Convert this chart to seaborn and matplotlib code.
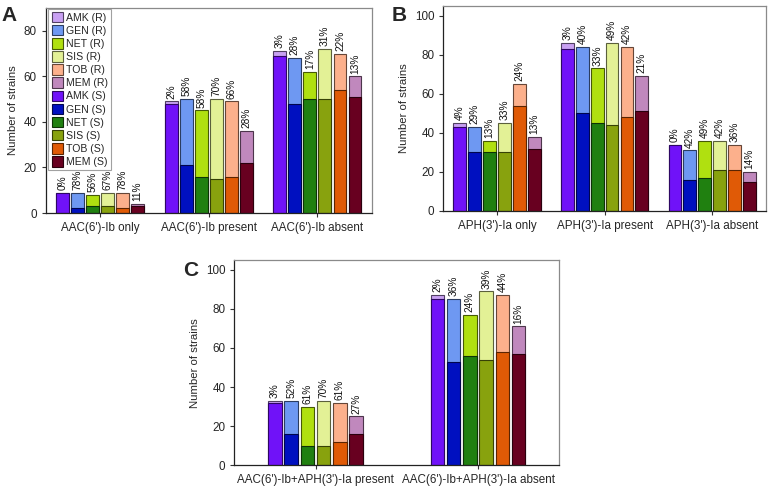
import matplotlib
matplotlib.use('Agg')
import matplotlib.pyplot as plt
import seaborn as sns
import pandas as pd
from matplotlib.patches import Patch

sns.set_style('ticks')
plt.rcParams['font.family'] = ['Liberation Sans', 'DejaVu Sans']

drugs = ['AMK', 'GEN', 'NET', 'SIS', 'TOB', 'MEM']
col_R = ['#c8a0f2', '#6e98f2', '#b0e010', '#e3f196', '#fcb08c', '#c088bd']
col_S = ['#7012f8', '#0010c0', '#208010', '#88a20e', '#e05a06', '#680020']

a_groups = ["AAC(6')-Ib only", "AAC(6')-Ib present", "AAC(6')-Ib absent"]
a_total = [[9, 9, 8, 9, 9, 4], [49, 50, 45, 50, 49, 36], [71, 68, 62, 72, 70, 60]]
a_S = [[9, 2, 3, 3, 2, 3], [48, 21, 16, 15, 16, 22], [69, 48, 50, 50, 54, 51]]
a_pct = [[0, 78, 56, 67, 78, 11], [2, 58, 58, 70, 66, 28], [3, 28, 17, 31, 22, 13]]

b_groups = ["APH(3')-Ia only", "APH(3')-Ia present", "APH(3')-Ia absent"]
b_total = [[45, 43, 36, 45, 65, 38], [86, 84, 73, 86, 84, 69], [34, 31, 36, 36, 34, 20]]
b_S = [[43, 30, 30, 30, 54, 32], [83, 50, 45, 44, 48, 51], [34, 16, 17, 21, 21, 15]]
b_pct = [[4, 29, 13, 33, 24, 13], [3, 40, 33, 49, 42, 21], [0, 42, 49, 42, 36, 14]]

c_groups = ["AAC(6')-Ib+APH(3')-Ia present", "AAC(6')-Ib+APH(3')-Ia absent"]
c_total = [[33, 33, 30, 33, 32, 25], [87, 85, 77, 89, 87, 71]]
c_S = [[32, 16, 10, 10, 12, 16], [85, 53, 56, 54, 58, 57]]
c_pct = [[3, 52, 61, 70, 61, 27], [2, 36, 24, 39, 44, 16]]


def darker(c, f=0.4):
    r, g, b = matplotlib.colors.to_rgb(c)
    return (r * f, g * f, b * f)


def draw(ax, groups, total, S, pct, width, gap, ymax, yticks):
    rows = []
    for gi, g in enumerate(groups):
        for di, d in enumerate(drugs):
            rows.append({'group': g, 'drug': d, 'total': total[gi][di], 'S': S[gi][di]})
    df = pd.DataFrame(rows)
    sns.barplot(data=df, x='group', y='total', hue='drug', order=groups, hue_order=drugs,
                palette=dict(zip(drugs, col_R)), width=width, gap=gap, saturation=1,
                linewidth=0.8, edgecolor='#333333', legend=False, ax=ax, errorbar=None)
    sns.barplot(data=df, x='group', y='S', hue='drug', order=groups, hue_order=drugs,
                palette=dict(zip(drugs, col_S)), width=width, gap=gap, saturation=1,
                linewidth=0.8, edgecolor='#333333', legend=False, ax=ax, errorbar=None)
    for p in ax.patches:
        p.set_edgecolor(darker(p.get_facecolor()))
    for di in range(len(drugs)):
        cont = ax.containers[di]
        ax.bar_label(cont, labels=[f'{pct[gi][di]}%' for gi in range(len(groups))],
                     rotation=90, padding=2, fontsize=7.3, color='#111111')
    ax.set_xlim(-0.5, len(groups) - 0.5)
    ax.set_ylim(0, ymax)
    ax.set_yticks(yticks)
    ax.set_xlabel('')
    ax.set_ylabel('Number of strains', fontsize=8.2)
    ax.tick_params(axis='both', labelsize=8.4, length=3, width=0.8, color='#333333')
    for s in ['left', 'bottom']:
        ax.spines[s].set_color('#222222')
        ax.spines[s].set_linewidth(0.9)
    for s in ['top', 'right']:
        ax.spines[s].set_visible(True)
        ax.spines[s].set_color('#8a8a8a')
        ax.spines[s].set_linewidth(0.9)


fig = plt.figure(figsize=(7.7, 4.9), dpi=100)
axA = fig.add_axes([0.0594, 0.5653, 0.4234, 0.4184])
axB = fig.add_axes([0.5757, 0.5694, 0.4191, 0.4184])
axC = fig.add_axes([0.3043, 0.0504, 0.4220, 0.4190])

draw(axA, a_groups, a_total, a_S, a_pct, 0.83, 0.14, 90, [0, 20, 40, 60, 80])
draw(axB, b_groups, b_total, b_S, b_pct, 0.83, 0.14, 105, [0, 20, 40, 60, 80, 100])
draw(axC, c_groups, c_total, c_S, c_pct, 0.60, 0.17, 105, [0, 20, 40, 60, 80, 100])

handles = [Patch(facecolor=c, edgecolor=darker(c), linewidth=0.8, label=f'{d} (R)')
           for d, c in zip(drugs, col_R)]
handles += [Patch(facecolor=c, edgecolor=darker(c), linewidth=0.8, label=f'{d} (S)')
            for d, c in zip(drugs, col_S)]
leg = axA.legend(handles=handles, loc='upper left', bbox_to_anchor=(0.008, 0.997),
                 borderaxespad=0, fontsize=7.6, frameon=True, fancybox=False,
                 handlelength=1.1, handleheight=1.15, labelspacing=0.22,
                 handletextpad=0.3, borderpad=0.3)
leg.get_frame().set_edgecolor('#8a8a8a')
leg.get_frame().set_linewidth(0.8)

fig.text(0.002, 0.988, 'A', fontsize=15, fontweight='bold', va='top', ha='left')
fig.text(0.508, 0.988, 'B', fontsize=15, fontweight='bold', va='top', ha='left')
fig.text(0.238, 0.468, 'C', fontsize=15, fontweight='bold', va='top', ha='left')

fig.savefig('out.png', dpi=100)
